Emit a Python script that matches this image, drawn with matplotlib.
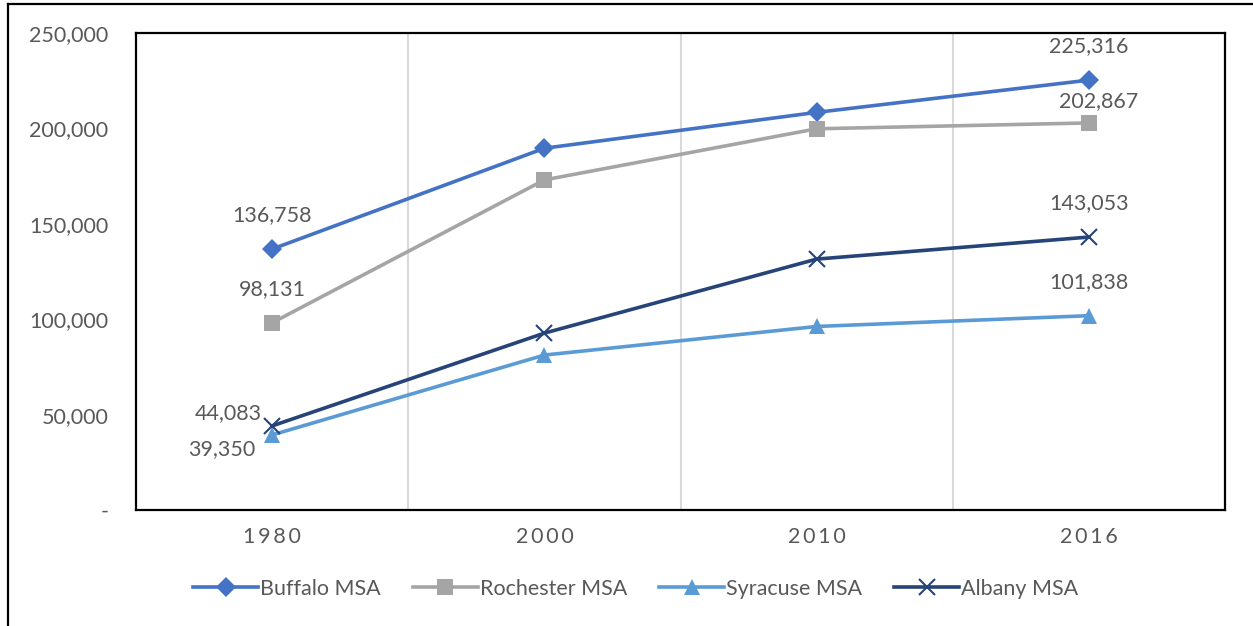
import numpy as np
import matplotlib.pyplot as plt
from matplotlib.lines import Line2D
from matplotlib.ticker import FuncFormatter

years = ['1980', '2000', '2010', '2016']
buffalo = [136758, 189600, 208400, 225316]
rochester = [98131, 173000, 199800, 202867]
syracuse = [39350, 81200, 96200, 101838]
albany = [44083, 92700, 131500, 143053]

names = ['Buffalo MSA', 'Rochester MSA', 'Syracuse MSA', 'Albany MSA']
colors = ['#4472C4', '#A5A5A5', '#5B9BD5', '#264478']
markers = ['D', 's', '^', 'x']
sizes = [10, 12, 12, 12]

# offsets (pixels) for the end labels: first point, last point
label_off = [[(0, 34), (0, 34)],
             [(0, 34), (10, 22)],
             [(-50, -14), (0, 34)],
             [(-44, 13), (0, 34)]]

plt.rcParams['font.family'] = ['Lato', 'DejaVu Sans']
txt = '#595959'
fs = 15.5

fig = plt.figure(figsize=(12.53, 6.26), dpi=100)
ax = fig.add_axes([136 / 1253, 116 / 626, 1089 / 1253, 477 / 626])

x = np.arange(len(years))
series = [buffalo, rochester, syracuse, albany]
for vals, name, c, m, s, offs in zip(series, names, colors, markers, sizes, label_off):
    ax.plot(x, vals, color=c, lw=2.6, marker=m, ms=s, mew=1.5 if m == 'x' else 0,
            mec=c, label=name, zorder=3)
    for i, off in zip([0, len(vals) - 1], offs):
        ax.annotate(f'{vals[i]:,}', (x[i], vals[i]), xytext=off,
                    textcoords='offset pixels', ha='center', va='center',
                    fontsize=fs, color=txt)

ax.set_xlim(-0.5, 3.5)
ax.set_ylim(0, 250000)
ax.set_yticks(np.arange(0, 250001, 50000))
ax.yaxis.set_major_formatter(FuncFormatter(lambda v, p: '-' if v == 0 else f'{int(v):,}'))
ax.set_xticks(x)
ax.set_xticklabels(['\u2009'.join(y) for y in years])
ax.tick_params(length=0, labelsize=fs, labelcolor=txt)
ax.tick_params(axis='y', pad=20)
ax.tick_params(axis='x', pad=12)

for g in [0.5, 1.5, 2.5]:
    ax.axvline(g, color='#D9D9D9', lw=1.5, zorder=1)

for sp in ax.spines.values():
    sp.set_linewidth(1.6)
    sp.set_color('black')

ax.legend(loc='center', bbox_to_anchor=(0.459, -0.165), ncol=4, frameon=False,
          fontsize=fs, labelcolor=txt, handlelength=3.0, handletextpad=0.1,
          columnspacing=1.5)

# outer frame (left and top edges visible)
fig.add_artist(Line2D([7.5 / 1253, 7.5 / 1253], [0, 1 - 3.5 / 626], color='black', lw=1.6,
                      transform=fig.transFigure))
fig.add_artist(Line2D([7.5 / 1253, 1], [1 - 3.5 / 626, 1 - 3.5 / 626], color='black', lw=1.6,
                      transform=fig.transFigure))

fig.savefig('out.png', dpi=100)
